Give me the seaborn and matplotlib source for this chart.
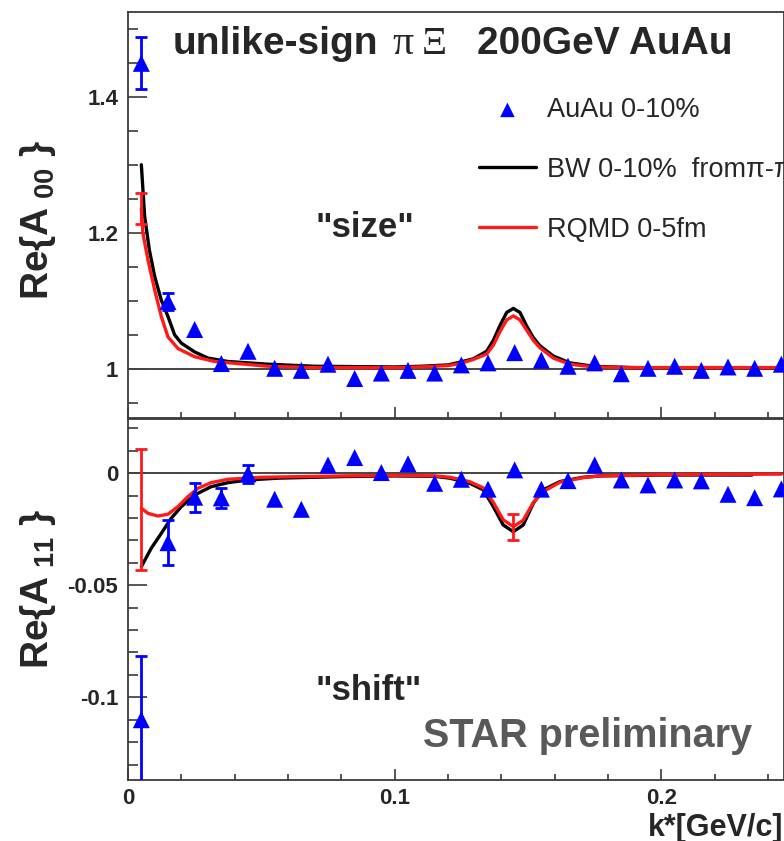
import numpy as np
import pandas as pd
import matplotlib
matplotlib.use("Agg")
import matplotlib.pyplot as plt
import seaborn as sns
from matplotlib.ticker import MultipleLocator, FixedLocator, FixedFormatter

# ---------------- data ----------------
k_bins = [0.005, 0.015, 0.025, 0.035, 0.045, 0.055, 0.065, 0.075, 0.085, 0.095,
          0.105, 0.115, 0.125, 0.135, 0.145, 0.155, 0.165, 0.175, 0.185, 0.195,
          0.205, 0.215, 0.225, 0.235, 0.245]
a00_data = [1.449, 1.099, 1.058, 1.008, 1.026, 1.001, 0.998, 1.007, 0.986, 0.994,
            0.998, 0.994, 1.006, 1.009, 1.024, 1.013, 1.004, 1.009, 0.993, 1.001,
            1.004, 0.998, 1.003, 1.001, 1.007]
a00_err = [0.038, 0.013, 0, 0, 0, 0, 0, 0, 0, 0,
           0, 0, 0, 0, 0, 0, 0, 0, 0, 0, 0, 0, 0, 0, 0]
a11_data = [-0.110, -0.031, -0.0107, -0.011, -0.0003, -0.0116, -0.0161, 0.0037, 0.0070, 0.0003,
            0.0042, -0.0045, -0.0027, -0.0071, 0.0015, -0.0071, -0.0033, 0.0037, -0.0030, -0.0052,
            -0.0030, -0.0034, -0.0094, -0.0109, -0.0070]
a11_err = [0.0285, 0.010, 0.0065, 0.0045, 0.004, 0, 0, 0, 0, 0,
           0, 0, 0, 0, 0, 0, 0, 0, 0, 0, 0, 0, 0, 0, 0]

bw00_k = [0.005, 0.00625, 0.008, 0.01, 0.0125, 0.015, 0.0175, 0.02, 0.025, 0.03,
          0.0375, 0.0525, 0.07, 0.1, 0.11, 0.12, 0.1245, 0.1295, 0.1345, 0.137,
          0.1395, 0.142, 0.1445, 0.147, 0.1495, 0.152, 0.1545, 0.1595, 0.1657, 0.1745,
          0.19, 0.22, 0.246]
bw00_v = [1.300, 1.224, 1.175, 1.136, 1.101, 1.077, 1.050, 1.038, 1.025, 1.016,
          1.011, 1.007, 1.004, 1.003, 1.004, 1.006, 1.010, 1.015, 1.026, 1.042,
          1.064, 1.083, 1.089, 1.083, 1.063, 1.046, 1.034, 1.019, 1.009, 1.004,
          1.002, 1.002, 1.002]
rq00_k = [0.005, 0.0056, 0.0075, 0.01, 0.0125, 0.015, 0.01875, 0.025, 0.0325, 0.0525,
          0.07, 0.1, 0.11, 0.12, 0.1245, 0.1295, 0.1345, 0.137, 0.1395, 0.142,
          0.1445, 0.147, 0.1495, 0.152, 0.1545, 0.1595, 0.1657, 0.1745, 0.19, 0.22,
          0.246]
rq00_v = [1.236, 1.199, 1.160, 1.116, 1.077, 1.047, 1.030, 1.018, 1.011, 1.004,
          1.002, 1.002, 1.003, 1.005, 1.008, 1.014, 1.022, 1.035, 1.055, 1.072,
          1.078, 1.072, 1.057, 1.042, 1.031, 1.016, 1.007, 1.003, 1.002, 1.002,
          1.002]
bw11_k = [0.005, 0.0087, 0.0125, 0.0162, 0.02, 0.025, 0.0312, 0.0375, 0.045, 0.0562,
          0.08, 0.1, 0.115, 0.1207, 0.1282, 0.1332, 0.137, 0.1407, 0.1445, 0.1482,
          0.152, 0.1557, 0.162, 0.1707, 0.177, 0.2, 0.234]
bw11_v = [-0.0417, -0.0335, -0.0268, -0.0201, -0.0149, -0.0097, -0.0060, -0.0042, -0.0030, -0.0022,
          -0.0015, -0.0012, -0.0014, -0.0022, -0.0045, -0.0074, -0.0149, -0.0231, -0.0261, -0.0231,
          -0.0134, -0.0074, -0.0037, -0.0018, -0.0012, -0.0008, -0.0008]
rq11_k = [0.005, 0.0075, 0.0112, 0.015, 0.01875, 0.0225, 0.02625, 0.0312, 0.0375, 0.05,
          0.08, 0.1, 0.115, 0.1207, 0.1282, 0.1332, 0.137, 0.1407, 0.1445, 0.1482,
          0.152, 0.1557, 0.162, 0.1707, 0.177, 0.2, 0.245]
rq11_v = [-0.0156, -0.0179, -0.0191, -0.0183, -0.0149, -0.0104, -0.0067, -0.0042, -0.0027, -0.0018,
          -0.0012, -0.0010, -0.0012, -0.0018, -0.0038, -0.0065, -0.0130, -0.0208, -0.0238, -0.0210,
          -0.0130, -0.0082, -0.0040, -0.0020, -0.0012, -0.0006, -0.0004]

rq_err_k = [0.005]
rq00_err_v = [1.236]
rq00_err_e = [0.023]
rq11_err_k = [0.005, 0.1445]
rq11_err_v = [-0.016, -0.024]
rq11_err_e = [0.027, 0.006]

x_ticks = [0, 0.1, 0.2]
x_ticklabels = ["0", "0.1", "0.2"]
top_ticks = [1.0, 1.2, 1.4]
top_ticklabels = ["1", "1.2", "1.4"]
bot_ticks = [-0.1, -0.05, 0.0]
bot_ticklabels = ["-0.1", "-0.05", "0"]

labels = ["AuAu 0-10%", "BW 0-10%  from\u03c0-\u03c0", "RQMD 0-5fm"]

# ---------------- style ----------------
sns.set_style("ticks")
plt.rcParams["font.family"] = ["Liberation Sans", "DejaVu Sans"]
plt.rcParams["mathtext.fontset"] = "custom"
plt.rcParams["mathtext.rm"] = "Liberation Sans:bold"
plt.rcParams["mathtext.bf"] = "Liberation Sans:bold"
plt.rcParams["mathtext.it"] = "Liberation Sans:bold"

W, H = 784, 841
fig = plt.figure(figsize=(W / 100, H / 100), dpi=100)

def fx(px):
    return px / W

def fy(py):
    return 1 - py / H

ax1 = fig.add_axes([fx(128), fy(418), fx(784) - fx(128), fy(12) - fy(418)])
ax2 = fig.add_axes([fx(128), fy(780), fx(784) - fx(128), fy(419) - fy(780)])

blue = "#0000ff"
red = "#ff1a1a"
spine_c = "#3a3a3a"

df00 = pd.DataFrame({"k": k_bins, "v": a00_data, "e": a00_err})
df11 = pd.DataFrame({"k": k_bins, "v": a11_data, "e": a11_err})

for ax, df, bwk, bwv, rqk, rqv, ref in [
    (ax1, df00, bw00_k, bw00_v, rq00_k, rq00_v, 1.0),
    (ax2, df11, bw11_k, bw11_v, rq11_k, rq11_v, 0.0),
]:
    ax.axhline(ref, color="#444444", lw=1.4, zorder=1)
    sns.lineplot(x=bwk, y=bwv, ax=ax, color="black", lw=2.4, label=labels[1],
                 sort=False, zorder=3)
    sns.lineplot(x=rqk, y=rqv, ax=ax, color=red, lw=2.4, label=labels[2],
                 sort=False, zorder=4)
    ee = df[df["e"] > 0]
    ax.errorbar(ee["k"], ee["v"], yerr=ee["e"], fmt="none", ecolor=blue,
                elinewidth=2, capsize=4, capthick=2, zorder=5)
    sns.scatterplot(data=df, x="k", y="v", ax=ax, marker="^", color=blue,
                    s=150, edgecolor="none", label=labels[0], zorder=6)

ax1.errorbar(rq_err_k, rq00_err_v, yerr=rq00_err_e, fmt="none", ecolor=red,
             elinewidth=2, capsize=4, capthick=2, zorder=4)
ax2.errorbar(rq11_err_k, rq11_err_v, yerr=rq11_err_e, fmt="none", ecolor=red,
             elinewidth=2, capsize=4, capthick=2, zorder=4)

xmax = 656 / 2666.7
ax1.set_xlim(0, xmax)
ax2.set_xlim(0, xmax)
ax1.set_ylim(0.928, 1.5244)
ax2.set_ylim(-0.1369, 0.0242)

for ax in (ax1, ax2):
    for s in ax.spines.values():
        s.set_color(spine_c)
        s.set_linewidth(1.3)
    ax.xaxis.set_major_locator(FixedLocator(x_ticks))
    ax.xaxis.set_minor_locator(MultipleLocator(0.02))
    ax.tick_params(axis="x", which="major", direction="in", length=8, width=1.2,
                   color=spine_c, labelsize=16, pad=6)
    ax.tick_params(axis="x", which="minor", direction="in", length=4.5, width=1.2,
                   color=spine_c)
    ax.tick_params(axis="y", which="major", direction="in", length=14, width=1.2,
                   color=spine_c, labelsize=16, pad=7)
    ax.tick_params(axis="y", which="minor", direction="in", length=7, width=1.2,
                   color=spine_c)
    ax.set_xlabel("")
    if ax.get_legend() is not None:
        ax.get_legend().remove()

ax1.xaxis.set_major_formatter(FixedFormatter(["", "", ""]))
ax2.xaxis.set_major_formatter(FixedFormatter(x_ticklabels))
ax1.yaxis.set_major_locator(FixedLocator(top_ticks))
ax1.yaxis.set_major_formatter(FixedFormatter(top_ticklabels))
ax1.yaxis.set_minor_locator(MultipleLocator(0.05))
ax2.yaxis.set_major_locator(FixedLocator(bot_ticks))
ax2.yaxis.set_major_formatter(FixedFormatter(bot_ticklabels))
ax2.yaxis.set_minor_locator(MultipleLocator(0.01))
for ax in (ax1, ax2):
    for t in ax.get_xticklabels() + ax.get_yticklabels():
        t.set_fontweight("bold")

ax1.set_ylabel(r"Re{A$_{\ \mathbf{00}}$ }", fontsize=28, fontweight="bold")
ax2.set_ylabel(r"Re{A$_{\ \mathbf{11}}$ }", fontsize=28, fontweight="bold")
ax1.yaxis.set_label_coords((58 - 128) / 656, 0.488)
ax2.yaxis.set_label_coords((58 - 128) / 656, 0.529)

fig.text(fx(783), fy(836), "k*[GeV/c]", ha="right", va="baseline",
         fontsize=22, fontweight="bold")

# title
fig.text(fx(173), fy(54), "unlike-sign", ha="left", va="baseline",
         fontsize=28, fontweight="bold")
fig.text(fx(392), fy(54), "\u03c0", ha="left", va="baseline", fontsize=30,
         family=["Liberation Serif", "DejaVu Serif"])
fig.text(fx(422), fy(54), "\u039e", ha="left", va="baseline", fontsize=28,
         family=["Liberation Serif", "DejaVu Serif"])
fig.text(fx(477), fy(54), "200GeV AuAu", ha="left", va="baseline",
         fontsize=28, fontweight="bold")

fig.text(fx(365), fy(237), "\"size\"", ha="center", va="baseline",
         fontsize=25, fontweight="bold")
fig.text(fx(369), fy(700), "\"shift\"", ha="center", va="baseline",
         fontsize=25, fontweight="bold")
fig.text(fx(423), fy(747), "STAR preliminary", ha="left", va="baseline",
         fontsize=28.5, fontweight="bold", color="#595959")

# legend
h, l = ax1.get_legend_handles_labels()
hmap = dict(zip(l, h))
leg = fig.legend([hmap[x] for x in labels], labels, loc="upper left",
                 bbox_to_anchor=(fx(479), fy(97)), frameon=False, fontsize=19.5,
                 handlelength=2.1, handletextpad=0.4, labelspacing=1.25,
                 borderpad=0, borderaxespad=0)
for lh in leg.legend_handles:
    try:
        lh.set_sizes([110])
    except Exception:
        pass

fig.savefig("out.png", dpi=100)
